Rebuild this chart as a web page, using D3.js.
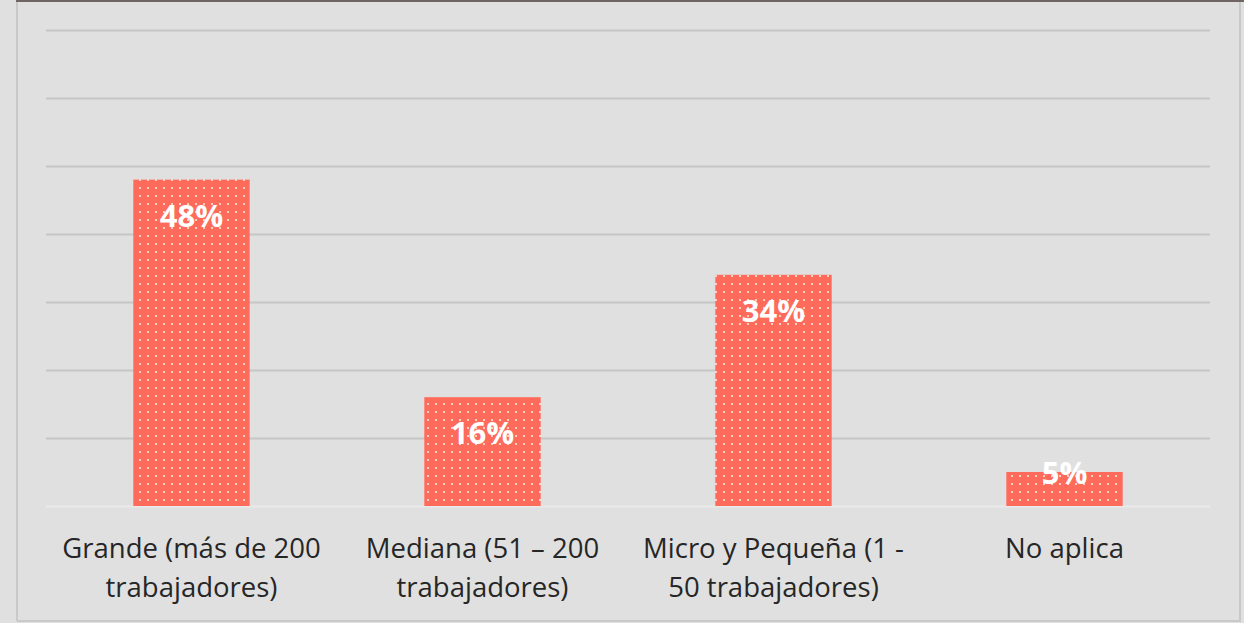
<!DOCTYPE html>
<html>
<head>
<meta charset="utf-8">
<script src="https://d3js.org/d3.v7.min.js"></script>
<style>
  body { margin: 0; background: #e0e0e0; }
  svg { display: block; }
</style>
</head>
<body>
<script>
    var w = 1244, h = 623;

    var categories = [
        ["Grande (más de 200", "trabajadores)"],
        ["Mediana (51 – 200", "trabajadores)"],
        ["Micro y Pequeña (1 -", "50 trabajadores)"],
        ["No aplica"]
    ];
    var values = [48, 16, 34, 5];
    var labels = ["48%", "16%", "34%", "5%"];
    var yTicks = [0, 10, 20, 30, 40, 50, 60, 70];

    var m = {left: 46, right: 34, top: 30, bottom: 117};

    var svg = d3.select('body').append('svg')
        .attr('width', w)
        .attr('height', h);

    // dotted fill for bars
    var defs = svg.append('defs');
    var pat = defs.append('pattern')
        .attr('id', 'dots')
        .attr('patternUnits', 'userSpaceOnUse')
        .attr('width', 8).attr('height', 8);
    pat.append('rect').attr('width', 8).attr('height', 8).attr('fill', '#ff6b5b');
    pat.append('rect').attr('x', 3).attr('y', 3).attr('width', 2).attr('height', 2).attr('fill', '#ffcfc6');

    // frame
    svg.append('rect').attr('x', 0).attr('y', 0).attr('width', w).attr('height', h).attr('fill', '#e0e0e0');
    svg.append('line').attr('x1', 17).attr('x2', 17).attr('y1', 0).attr('y2', 621)
        .attr('stroke', '#c9c9c9').attr('stroke-width', 2);
    svg.append('line').attr('x1', 1240).attr('x2', 1240).attr('y1', 0).attr('y2', 621)
        .attr('stroke', '#c9c9c9').attr('stroke-width', 2);
    svg.append('line').attr('x1', 17).attr('x2', 1241).attr('y1', 621).attr('y2', 621)
        .attr('stroke', '#c9c9c9').attr('stroke-width', 2);
    svg.append('line').attr('x1', 16).attr('x2', w).attr('y1', 1).attr('y2', 1)
        .attr('stroke', '#6f6565').attr('stroke-width', 2);

    var x = d3.scaleBand()
        .domain(d3.range(values.length))
        .range([m.left, w - m.right])
        .paddingInner(0.6)
        .paddingOuter(0.3);

    var y = d3.scaleLinear()
        .domain([0, 70])
        .range([h - m.bottom, m.top]);

    // gridlines
    svg.append('g')
        .attr('transform', 'translate(' + m.left + ',0)')
        .call(d3.axisLeft(y).tickValues(yTicks).tickSize(-(w - m.left - m.right)).tickFormat(''))
        .call(function (g) {
            g.select('.domain').remove();
            g.selectAll('.tick line')
                .attr('stroke', function (d) { return d === 0 ? '#e9e9e9' : '#c6c6c6'; })
                .attr('stroke-width', 2);
        });

    // bars
    svg.selectAll('.bar')
        .data(values)
        .enter().append('rect')
        .attr('class', 'bar')
        .attr('x', function (d, i) { return x(i); })
        .attr('y', function (d) { return y(d); })
        .attr('width', x.bandwidth())
        .attr('height', function (d) { return y(0) - y(d); })
        .attr('fill', 'url(#dots)');

    // value labels
    svg.selectAll('.val')
        .data(values)
        .enter().append('text')
        .attr('class', 'val')
        .attr('x', function (d, i) { return x(i) + x.bandwidth() / 2; })
        .attr('y', function (d) {
            var top = y(d);
            return (y(0) - top) > 60 ? top + 47 : top + 12;
        })
        .attr('text-anchor', 'middle')
        .attr('fill', '#ffffff')
        .attr('font-family', 'Open Sans, sans-serif')
        .attr('font-weight', 'bold')
        .attr('font-size', '31px')
        .text(function (d, i) { return labels[i]; });

    // category labels
    var cat = svg.selectAll('.cat')
        .data(categories)
        .enter().append('text')
        .attr('class', 'cat')
        .attr('x', function (d, i) { return x(i) + x.bandwidth() / 2; })
        .attr('y', 558)
        .attr('text-anchor', 'middle')
        .attr('fill', '#262626')
        .attr('font-family', 'Open Sans, sans-serif')
        .attr('font-size', '27.5px');

    cat.each(function (d, i) {
        var t = d3.select(this);
        d.forEach(function (line, j) {
            t.append('tspan')
                .attr('x', x(i) + x.bandwidth() / 2)
                .attr('dy', j === 0 ? 0 : 39)
                .text(line);
        });
    });
</script>
</body>
</html>
